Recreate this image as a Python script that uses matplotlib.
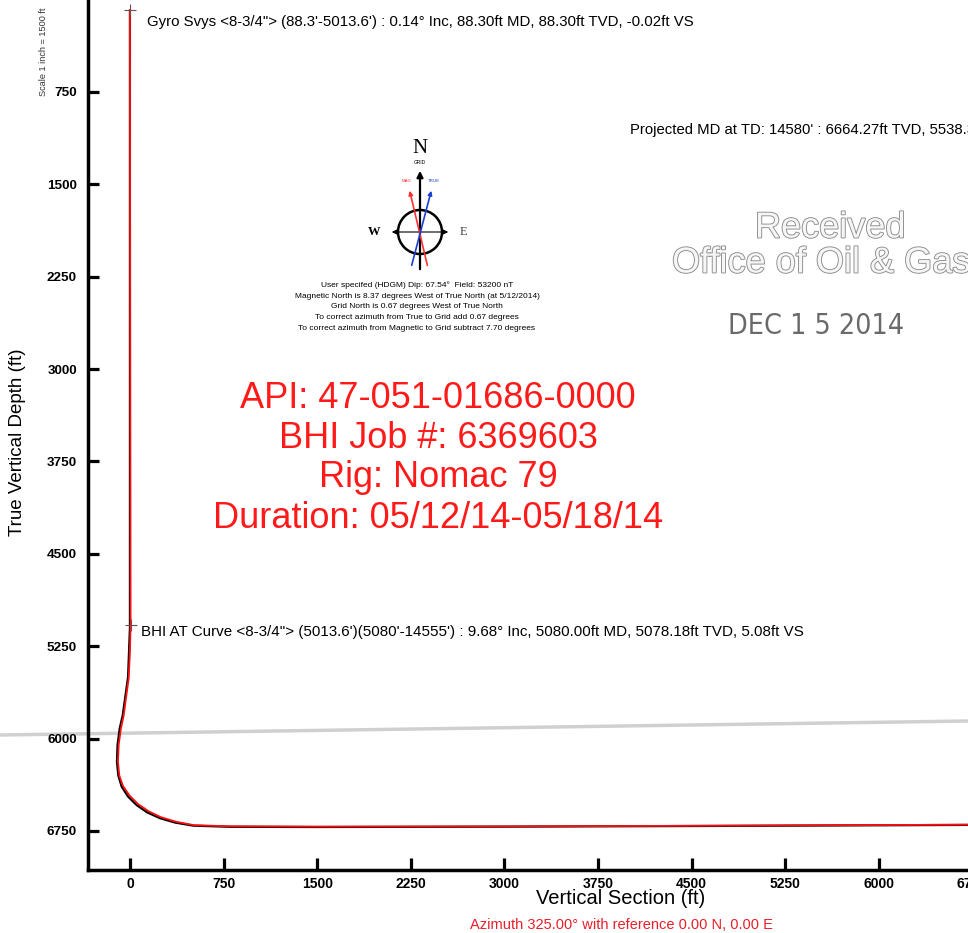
import matplotlib
matplotlib.use("Agg")
import matplotlib.pyplot as plt
import matplotlib.patches as patches
import matplotlib.patheffects as pe
from matplotlib.lines import Line2D

plt.rcParams['font.family'] = ['Liberation Sans', 'DejaVu Sans']

# survey data
actual_vs = [-0.02, 2, 5.08, 0, -10, -50, -72, -90, -96, -85, -56, -5, 64, 150, 248, 370, 513, 800, 1500, 3000, 4500, 6000, 6950]
actual_tvd = [88.3, 2500, 5078.18, 5300, 5509, 5812, 5918, 6050, 6188, 6300, 6384, 6460, 6531, 6590, 6638, 6675, 6703, 6712, 6715, 6713, 6708, 6702, 6698]

plan_vs = [0, 0, -15, -58, -82, -99, -104, -93, -66, -16, 54, 140, 240, 362, 508, 800, 1500, 3000, 4500, 6000, 6950]
plan_tvd = [88.3, 5100, 5500, 5812, 5918, 6050, 6188, 6300, 6390, 6470, 6540, 6600, 6646, 6682, 6707, 6716, 6718, 6715, 6710, 6704, 6700]

tie_points_vs = [-0.02, 5.08]
tie_points_tvd = [88.3, 5078.18]

x_ticks = [0, 750, 1500, 2250, 3000, 3750, 4500, 5250, 6000, 6750]
y_ticks = [750, 1500, 2250, 3000, 3750, 4500, 5250, 6000, 6750]

gyro_label = "Gyro Svys <8-3/4\"> (88.3'-5013.6') : 0.14\u00b0 Inc, 88.30ft MD, 88.30ft TVD, -0.02ft VS"
bhi_label = "BHI AT Curve <8-3/4\"> (5013.6')(5080'-14555') : 9.68\u00b0 Inc, 5080.00ft MD, 5078.18ft TVD, 5.08ft VS"
td_label = "Projected MD at TD: 14580' : 6664.27ft TVD, 5538.39ft VS"
well_info = ["API: 47-051-01686-0000", "BHI Job #: 6369603", "Rig: Nomac 79", "Duration: 05/12/14-05/18/14"]
mag_info = ["User specifed (HDGM) Dip: 67.54\u00b0  Field: 53200 nT",
            "Magnetic North is 8.37 degrees West of True North (at 5/12/2014)",
            "Grid North is 0.67 degrees West of True North",
            "To correct azimuth from True to Grid add 0.67 degrees",
            "To correct azimuth from Magnetic to Grid subtract 7.70 degrees"]

W, H = 968, 933


def px(x, y):
    return x / W, 1 - y / H


fig = plt.figure(figsize=(9.68, 9.33), dpi=100)

# scan fold line
fig.add_artist(Line2D([0, 1], [1 - 735 / H, 1 - 721 / H], color='#d0d0d0', lw=2.5, zorder=0))

ax = fig.add_axes([88 / W, 63 / H, (1000 - 88) / W, (870 + 10) / H])
ax.set_facecolor('none')
ax.plot(plan_vs, plan_tvd, color='black', lw=1.6)
ax.plot(actual_vs, actual_tvd, color='#ff1010', lw=1.3)
ax.plot(tie_points_vs, tie_points_tvd, linestyle='none', marker='+', ms=9, mew=0.8, color='#7a4a4a')

ax.set_xlim(-336, 6971)
ax.set_ylim(7067, -78)
ax.set_xticks(x_ticks)
ax.set_yticks(y_ticks)
for s in ['top', 'right']:
    ax.spines[s].set_visible(False)
for s in ['left', 'bottom']:
    ax.spines[s].set_linewidth(2.5)
ax.tick_params(axis='both', direction='in', width=2.3)
ax.tick_params(axis='x', length=9, pad=5)
ax.tick_params(axis='y', length=8, pad=8)
for lab in ax.get_xticklabels():
    lab.set_fontweight('bold')
    lab.set_fontsize(10)
for lab in ax.get_yticklabels():
    lab.set_fontweight('bold')
    lab.set_fontsize(9.7)

# annotations along the well
fig.text(*px(147, 22), gyro_label, fontsize=10.8, va='center', ha='left')
fig.text(*px(141, 632), bhi_label, fontsize=10.9, va='center', ha='left')
fig.text(*px(630, 130), td_label, fontsize=10.7, va='center', ha='left')

# axis titles
fig.text(*px(18, 442), "True Vertical Depth (ft)", rotation=90, fontsize=13.5, va='center', ha='center')
fig.text(*px(621, 898), "Vertical Section (ft)", fontsize=14.5, va='center', ha='center')
fig.text(*px(621, 925), "Azimuth 325.00\u00b0 with reference 0.00 N, 0.00 E", fontsize=10.5,
         color='#e8202a', va='center', ha='center')
fig.text(*px(43, 52), "Scale 1 inch = 1500 ft", rotation=90, fontsize=6.6, va='center', ha='center', color='#333333')

# big red well info
for i, line in enumerate(well_info):
    fig.text(*px(438, 398 + 40 * i), line, fontsize=26, color='#ff1a1a', va='center', ha='center')

# north arrow / compass
cax = fig.add_axes([340 / W, 1 - 285 / H, 160 / W, 145 / H])
cax.set_xlim(340, 500)
cax.set_ylim(285, 140)
cax.axis('off')
cax.add_patch(patches.Circle((420, 232), 22, fill=False, lw=1.8, color='black'))
cax.annotate('', xy=(420, 168), xytext=(420, 272),
             arrowprops=dict(arrowstyle='-|>', color='black', lw=1.6, mutation_scale=9))
cax.annotate('', xy=(389, 232), xytext=(451, 232),
             arrowprops=dict(arrowstyle='<|-|>', color='black', lw=0.8, mutation_scale=7))
cax.annotate('', xy=(409, 188), xytext=(428, 268),
             arrowprops=dict(arrowstyle='-|>', color='#ff3030', lw=1.2, mutation_scale=6))
cax.annotate('', xy=(432, 188), xytext=(411, 268),
             arrowprops=dict(arrowstyle='-|>', color='#1a3fd0', lw=1.2, mutation_scale=6))
cax.text(420, 148, "N", fontsize=15, family='Liberation Serif', ha='center', va='center')
cax.text(420, 162, "GRID", fontsize=3.5, ha='center', va='center')
cax.text(407, 181, "MAG", fontsize=3.2, ha='center', va='center', color='#ff3030')
cax.text(434, 181, "TRUE", fontsize=3.2, ha='center', va='center', color='#1a3fd0')
cax.text(374, 232, "W", fontsize=9, family='Liberation Serif', fontweight='bold', ha='center', va='center')
cax.text(463, 232, "E", fontsize=9, family='Liberation Serif', ha='center', va='center', color='#444444')

for i, line in enumerate(mag_info):
    fig.text(*px(417, 285 + 11 * i), line, fontsize=6, ha='center', va='center')

# received stamp
stamp = dict(color='#f6f6f6', path_effects=[pe.withStroke(linewidth=1.3, foreground='#8c8c8c')])
fig.text(*px(830, 228), "Received", fontsize=26, ha='center', va='center', **stamp)
fig.text(*px(672, 263), "Office of Oil & Gas", fontsize=26, ha='left', va='center', **stamp)
fig.text(*px(816, 326), "DEC 1 5 2014", fontsize=20.5, ha='center', va='center',
         family='DejaVu Sans', fontstretch='condensed', fontweight='light', color='#6a6a6a')

fig.savefig('out.png', dpi=100)
